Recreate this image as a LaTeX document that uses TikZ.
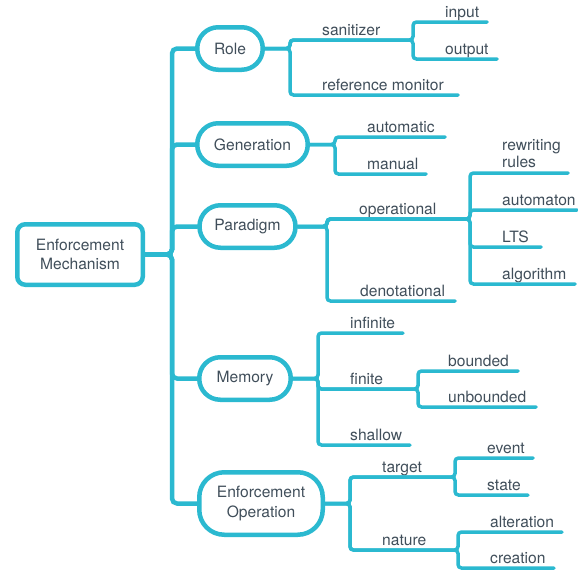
\documentclass[tikz,border=0pt]{standalone}
\usepackage{fontspec}
\setmainfont{TeX Gyre Heros}
\definecolor{mapline}{RGB}{43,185,208}
\definecolor{maptext}{RGB}{64,78,90}

\begin{document}
\begin{tikzpicture}[x=1pt, y=-1pt]
	\tikzset{
		every node/.style = {text=maptext, font=\fontsize{15.6}{18.5}\selectfont},
		topic/.style = {draw=mapline, line width=4.5pt, rounded corners=21pt, minimum height=42.5pt, inner sep=0pt, align=center},
		rootbox/.style = {draw=mapline, line width=4.5pt, rounded corners=8pt, minimum width=125.5pt, minimum height=60.5pt, inner sep=0pt, align=center},
		leaf/.style = {anchor=base west, inner sep=0pt},
		trunk/.style = {draw=mapline, line width=4.5pt, rounded corners=5pt, line cap=round},
		link/.style = {draw=mapline, line width=3.5pt, rounded corners=3.5pt, line cap=round}
	}
	\useasboundingbox (0,0) rectangle (578,573);

	\node[rootbox] (root) at (80,254.5) {Enforcement\\Mechanism};
	\node[topic, minimum width=65.5pt] (role) at (230,48.5) {Role};
	\node[topic, minimum width=110.5pt] (gen) at (252.5,144.5) {Generation};
	\node[topic, minimum width=96pt] (para) at (247.5,226.5) {Paradigm};
	\node[topic, minimum width=91.5pt] (mem) at (245,378.5) {Memory};
	\node[topic, minimum width=123.5pt, minimum height=62.5pt, rounded corners=25pt, font=\fontsize{15.6}{19.5}\selectfont] (op) at (261,503.5) {Enforcement\\Operation};

	\coordinate (root-j) at (172,254.5);
	\coordinate (role-j) at (290,48.5);
	\coordinate (gen-j) at (335,144.5);
	\coordinate (para-j) at (327,226.5);
	\coordinate (mem-j) at (318,378.5);
	\coordinate (op-j) at (350,503.5);

	\node[leaf] (san) at (322,35.5) {sanitizer};
	\node[leaf] (inp) at (445,17) {input};
	\node[leaf] (out) at (445,54) {output};
	\node[leaf] (ref) at (322,90.5) {reference monitor};
	\coordinate (san-j) at (413,40);
	\coordinate (inp-e) at (487,22);
	\coordinate (out-e) at (497,59);
	\coordinate (ref-e) at (458,95);

	\node[leaf] (auto) at (367,132) {automatic};
	\node[leaf] (man) at (367,169) {manual};
	\coordinate (auto-e) at (445,137);
	\coordinate (man-e) at (426,174);

	\node[leaf] (oper) at (359,214) {operational};
	\node[leaf, anchor=south west, align=left, font=\fontsize{15.6}{17.5}\selectfont] (rew) at (502,168) {rewriting\\rules};
	\node[leaf] (aut) at (502,205) {automaton};
	\node[leaf] (lts) at (502,242) {LTS};
	\node[leaf] (alg) at (502,279) {algorithm};
	\node[leaf] (den) at (360,296) {denotational};
	\coordinate (oper-j) at (470,219);
	\coordinate (rew-e) at (568,173);
	\coordinate (aut-e) at (577,210);
	\coordinate (lts-e) at (541,247);
	\coordinate (alg-e) at (575,284);
	\coordinate (den-e) at (455,301);

	\node[leaf] (inf) at (350,328) {infinite};
	\node[leaf] (fin) at (350,384) {finite};
	\node[leaf] (bnd) at (448,366) {bounded};
	\node[leaf] (unb) at (448,402) {unbounded};
	\node[leaf] (sha) at (350,440) {shallow};
	\coordinate (inf-e) at (403,333);
	\coordinate (fin-j) at (418,389);
	\coordinate (bnd-e) at (518,371);
	\coordinate (unb-e) at (536,407);
	\coordinate (sha-e) at (410,445);

	\node[leaf] (tgt) at (382,472) {target};
	\node[leaf] (evt) at (487,453) {event};
	\node[leaf] (sta) at (487,490) {state};
	\node[leaf] (nat) at (382,545) {nature};
	\node[leaf] (alt) at (490,527) {alteration};
	\node[leaf] (cre) at (490,563) {creation};
	\coordinate (tgt-j) at (455,477);
	\coordinate (evt-e) at (533,458);
	\coordinate (sta-e) at (528,495);
	\coordinate (nat-j) at (458,550);
	\coordinate (alt-e) at (562,532);
	\coordinate (cre-e) at (554,568);

	\draw[trunk] (root.east) -- (root-j) |- (role.west);
	\draw[trunk] (root.east) -- (root-j) |- (gen.west);
	\draw[trunk] (root.east) -- (root-j) |- (para.west);
	\draw[trunk] (root.east) -- (root-j) |- (mem.west);
	\draw[trunk] (root.east) -- (root-j) |- (op.west);

	\draw[link] (role.east) -- (role-j) |- (san-j) |- (inp-e);
	\draw[link] (role.east) -- (role-j) |- (san-j) |- (out-e);
	\draw[link] (role.east) -- (role-j) |- (ref-e);

	\draw[link] (gen.east) -- (gen-j) |- (auto-e);
	\draw[link] (gen.east) -- (gen-j) |- (man-e);

	\draw[link] (para.east) -- (para-j) |- (oper-j) |- (rew-e);
	\draw[link] (para.east) -- (para-j) |- (oper-j) |- (aut-e);
	\draw[link] (para.east) -- (para-j) |- (oper-j) |- (lts-e);
	\draw[link] (para.east) -- (para-j) |- (oper-j) |- (alg-e);
	\draw[link] (para.east) -- (para-j) |- (den-e);

	\draw[link] (mem.east) -- (mem-j) |- (inf-e);
	\draw[link] (mem.east) -- (mem-j) |- (fin-j) |- (bnd-e);
	\draw[link] (mem.east) -- (mem-j) |- (fin-j) |- (unb-e);
	\draw[link] (mem.east) -- (mem-j) |- (sha-e);

	\draw[link] (op.east) -- (op-j) |- (tgt-j) |- (evt-e);
	\draw[link] (op.east) -- (op-j) |- (tgt-j) |- (sta-e);
	\draw[link] (op.east) -- (op-j) |- (nat-j) |- (alt-e);
	\draw[link] (op.east) -- (op-j) |- (nat-j) |- (cre-e);
\end{tikzpicture}
\end{document}
